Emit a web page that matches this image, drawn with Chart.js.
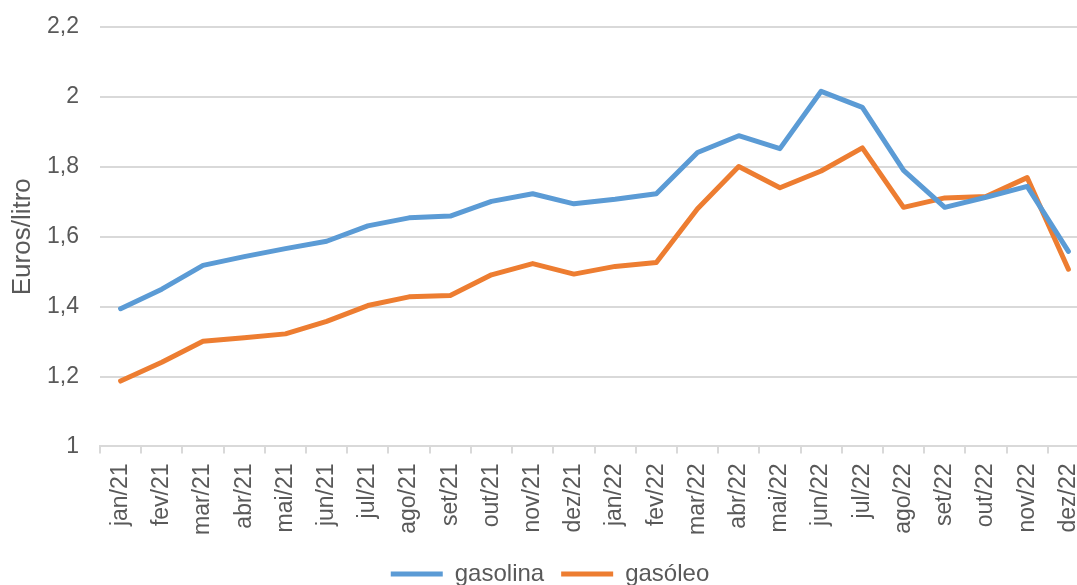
<!DOCTYPE html>
<html>
<head>
<meta charset="utf-8">
<script src="https://cdn.jsdelivr.net/npm/chart.js@4/dist/chart.umd.min.js"></script>
<style>
  html, body { margin: 0; padding: 0; background: #fff; overflow: hidden; }
  #wrap { width: 1100px; height: 585px; }
</style>
</head>
<body>
<div id="wrap"><canvas id="chart" width="1100" height="585"></canvas></div>
<script>
// Preço médio mensal dos combustíveis (euros por litro)
const meses = [
  'jan/21', 'fev/21', 'mar/21', 'abr/21', 'mai/21', 'jun/21',
  'jul/21', 'ago/21', 'set/21', 'out/21', 'nov/21', 'dez/21',
  'jan/22', 'fev/22', 'mar/22', 'abr/22', 'mai/22', 'jun/22',
  'jul/22', 'ago/22', 'set/22', 'out/22', 'nov/22', 'dez/22',
];
const gasolina = [
  1.394, 1.450, 1.518, 1.543, 1.566, 1.587, 1.631, 1.654, 1.659, 1.701, 1.723, 1.694,
  1.707, 1.723, 1.841, 1.889, 1.852, 2.016, 1.970, 1.790, 1.684, 1.713, 1.744, 1.558,
];
const gasoleo = [
  1.187, 1.241, 1.301, 1.311, 1.322, 1.358, 1.403, 1.428, 1.432, 1.491, 1.523, 1.493,
  1.515, 1.526, 1.680, 1.801, 1.740, 1.788, 1.854, 1.684, 1.711, 1.715, 1.769, 1.507,
];
const yTicks = [1, 1.2, 1.4, 1.6, 1.8, 2, 2.2];

const AZUL = '#5B9BD5';
const LARANJA = '#ED7D31';
const TEXTO = '#595959';
const GRELHA = '#D9D9D9';
const FONTE = 'Liberation Sans, Arial, sans-serif';

const serie = (label, data, cor) => ({
  label,
  data,
  borderColor: cor,
  backgroundColor: cor,
  borderWidth: 5,
  borderJoinStyle: 'round',
  borderCapStyle: 'round',
  pointRadius: 0,
  pointStyle: 'line',
  tension: 0,
});

new Chart(document.getElementById('chart'), {
  type: 'line',
  data: {
    labels: meses,
    datasets: [
      serie('gasolina', gasolina, AZUL),
      serie('gasóleo', gasoleo, LARANJA),
    ],
  },
  options: {
    responsive: false,
    animation: false,
    // the legend sits partly under the bottom edge, as in the original layout
    layout: { padding: { top: 0, right: 0, left: 0, bottom: -11 } },
    plugins: {
      tooltip: { enabled: false },
      legend: {
        position: 'bottom',
        labels: {
          color: TEXTO,
          font: { family: FONTE, size: 24 },
          usePointStyle: true,
          pointStyle: 'line',
          pointStyleWidth: 52,
          padding: 17,
        },
      },
    },
    scales: {
      x: {
        offset: true,
        afterFit: (scale) => {
          scale.paddingLeft = 0;
          scale.paddingRight = 11;
        },
        grid: {
          offset: true,
          drawOnChartArea: false,
          drawTicks: true,
          tickLength: 7,
          color: GRELHA,
          lineWidth: 2,
        },
        border: { display: true, color: GRELHA, width: 2 },
        ticks: {
          color: TEXTO,
          font: { family: FONTE, size: 23 },
          minRotation: 90,
          maxRotation: 90,
          autoSkip: false,
          padding: 10,
        },
      },
      y: {
        min: 1,
        max: 2.2,
        afterBuildTicks: (axis) => {
          axis.ticks = yTicks.map((v) => ({ value: v }));
        },
        afterFit: (scale) => {
          scale.width = 100;
          scale.paddingTop = 27;
          scale.paddingBottom = 0;
        },
        grid: { color: GRELHA, lineWidth: 2, drawTicks: false },
        border: { display: false },
        ticks: {
          color: TEXTO,
          font: { family: FONTE, size: 23 },
          padding: 21,
          callback: (v) => String(+v.toFixed(1)).replace('.', ','),
        },
        title: {
          display: true,
          text: 'Euros/litro',
          color: TEXTO,
          font: { family: FONTE, size: 26 },
          padding: { top: 7, bottom: 9 },
        },
      },
    },
  },
});
</script>
</body>
</html>
